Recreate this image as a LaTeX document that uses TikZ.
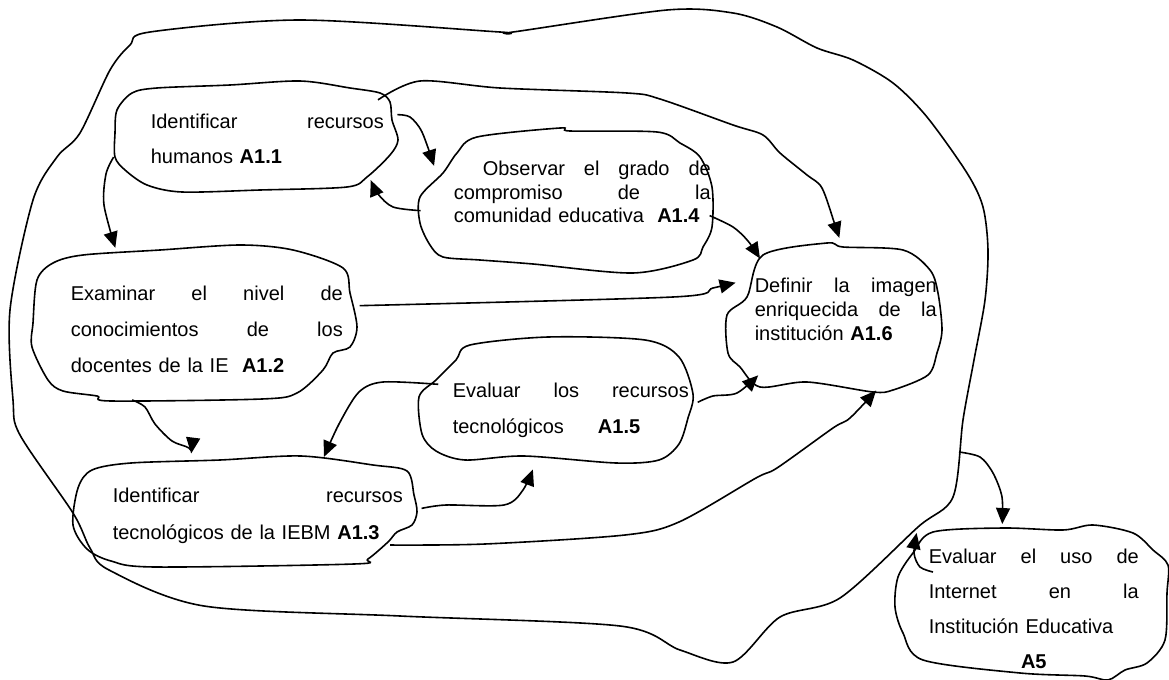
\documentclass[tikz,border=0pt]{standalone}
\usepackage{fontspec}
\setmainfont{Liberation Sans}
\usetikzlibrary{arrows.meta,shapes.geometric}

\begin{document}
\begin{tikzpicture}[x=0.5pt,y=-0.5pt,>={Triangle[length=8pt,width=7pt]},shorten >=1pt,line width=0.8pt,
  blob/.style={ellipse,inner sep=0pt},
  txt/.style={anchor=base west,inner sep=0pt,text width=#1},
  wide/.style={font=\fontsize{10}{#1}\selectfont},
  tight/.style={font=\fontsize{10}{12}\selectfont}]
\useasboundingbox (0,0) rectangle (1169,680);

% the big outer loop
\draw plot[smooth cycle,tension=0.5] coordinates {(150,32) (300,20) (500,32) (513,32) (667,10) (733,13) (777,27) (817,48)
  (853,60) (893,83) (927,117) (967,173) (983,207) (988,250) (985,300) (974,360) (963,420) (953,497) (918,527) (840,598)
  (780,617) (733,662) (680,650) (620,626) (400,616) (204,606) (109,570) (90,548) (73,513) (20,435) (13,400) (10,310)
  (33,200) (57,157) (80,133) (110,70) (130,45)};
\coordinate (out1) at (959,452);
\coordinate (out2) at (917,531);

% the clouds
\draw plot[smooth cycle,tension=0.5] coordinates {(132,93) (157,88) (230,85) (300,81) (350,88) (380,93) (390,102)
  (392,120) (398,140) (390,155) (367,177) (347,187) (260,190) (182,192) (147,185) (125,170) (115,157) (115,133) (117,110)};
\draw plot[smooth cycle,tension=0.5] coordinates {(53,263) (83,255) (160,250) (240,245) (293,250) (343,268) (350,293)
  (357,327) (350,347) (333,353) (323,370) (297,393) (262,399) (111,401) (97,396) (63,391) (48,380) (32,347) (33,323) (37,280)};
\draw plot[smooth cycle,tension=0.5] coordinates {(92,470) (131,463) (220,460) (301,456) (373,465) (407,471) (414,495)
  (417,512) (412,525) (397,532) (388,542) (368,559) (354,564) (155,567) (111,561) (87,549) (73,525) (78,488)};
\draw plot[smooth cycle,tension=0.5] coordinates {(477,137) (560,128) (570,131) (657,132) (680,143) (700,157) (712,187)
  (712,227) (703,247) (693,260) (633,273) (533,264) (480,260) (443,257) (430,245) (420,223) (420,197) (443,173) (457,153)};
\draw plot[smooth cycle,tension=0.5] coordinates {(470,345) (548,337) (645,340) (679,357) (693,394) (688,418) (679,444)
  (659,460) (616,463) (524,456) (465,460) (436,451) (422,434) (419,397) (436,380) (456,360)};
\draw plot[smooth cycle,tension=0.5] coordinates {(763,255) (827,243) (843,247) (903,250) (930,270) (938,293) (942,330)
  (937,353) (928,375) (893,390) (873,392) (807,382) (760,387) (740,367) (728,353) (727,315) (747,297)};
\draw plot[smooth cycle,tension=0.5] coordinates {(933,532) (1003,528) (1063,530) (1093,525) (1133,533) (1153,550)
  (1168,565) (1167,593) (1165,640) (1147,663) (1125,670) (1108,680) (1085,676) (1020,673) (923,660) (903,633) (895,607)
  (898,577) (913,553)};

% the activities
\node[blob,minimum width=150pt,minimum height=62pt] (b11) at (256.5,137) {};
\node[blob,minimum width=168pt,minimum height=82pt] (b12) at (194.5,323) {};
\node[blob,minimum width=176pt,minimum height=58pt] (b13) at (245,511.5) {};
\node[blob,minimum width=146pt,minimum height=72.5pt] (b14) at (566,200.5) {};
\node[blob,minimum width=131pt,minimum height=63pt] (b15) at (566,400) {};
\node[blob,minimum width=108pt,minimum height=77pt] (b16) at (834.5,317.5) {};
\node[blob,minimum width=136.5pt,minimum height=77.5pt] (b5) at (1031.5,602.5) {};
\coordinate (a5tail) at (933,572);

\node[txt=116.5pt,wide=17.5] (t11) at (150,128) {Identificar\hfill recursos\\humanos \textbf{A1.1}};
\node[txt=136pt,wide=18] (t12) at (70,300) {Examinar\hfill el\hfill nivel\hfill de\\conocimientos\hfill de\hfill los\\docentes de la IE~ \textbf{A1.2}};
\node[txt=145pt,wide=18.5] (t13) at (112,502) {Identificar\hfill recursos\\tecnológicos de la IEBM \textbf{A1.3}};
\node[txt=128.5pt,tight] (t14) at (453,175) {\hspace*{14.5pt}Observar\hfill el\hfill grado\hfill de\\compromiso\hfill de\hfill la\\comunidad educativa~ \textbf{A1.4}};
\node[txt=118pt,wide=18] (t15) at (452,397) {Evaluar\hfill los\hfill recursos\\tecnológicos\hspace{17pt}\textbf{A1.5}};
\node[txt=91pt,tight] (t16) at (754,292) {Definir\hfill la\hfill imagen\\enriquecida\hfill de\hfill la\\institución \textbf{A1.6}};
\node[txt=105pt,wide=17.5] (t5) at (928,563) {Evaluar\hfill el\hfill uso\hfill de\\Internet\hfill en\hfill la\\Institución Educativa\\\makebox[\linewidth]{\textbf{A5}}};

% the links
\draw[->] plot[smooth] coordinates {(b11.188) (106,174) (104,205) (b12.137)};
\draw[->] plot[smooth] coordinates {(b11.9) (410,117) (422,132) (b14.166)};
\draw[->] plot[smooth] coordinates {(b14.184) (393,207) (378,194) (b11.340)};
\draw[->] plot[smooth] coordinates {(b14.354) (733,227) (748,241) (b16.142)};
\draw[->] plot[smooth] coordinates {(b12.6) (673,297) (713,288) (b16.160)};
\draw[->] plot[smooth] coordinates {(b12.231) (145,407) (155,424) (172,441) (189,448) (b13.134)};
\draw[->] plot[smooth] coordinates {(b15.173) (383,382) (359,392) (339,424) (b13.34)};
\draw[->,shorten >=4pt] plot[smooth] coordinates {(b13.1) (446,505) (504,505) (523,490) (b15.244)};
\draw[->] plot[smooth] coordinates {(b15.359) (713,396) (737,393) (b16.217)};
\draw[->] plot[smooth] coordinates {(b13.347) (485,544) (625,535) (679,522) (756,478) (777,468) (833,428) (850,418) (b16.301)};
\draw[->] plot[smooth] coordinates {(b11.17) (420,81) (500,88) (627,93) (660,99) (733,125) (763,135) (780,153) (807,175)
  (822,188) (835,225) (b16.86)};
\draw[->] plot[smooth] coordinates {(out1) (980,457) (993,473) (1002,497) (b5.111)};
\draw[->] plot[smooth] coordinates {(a5tail) (920,567) (914,553) (out2)};
\end{tikzpicture}
\end{document}
